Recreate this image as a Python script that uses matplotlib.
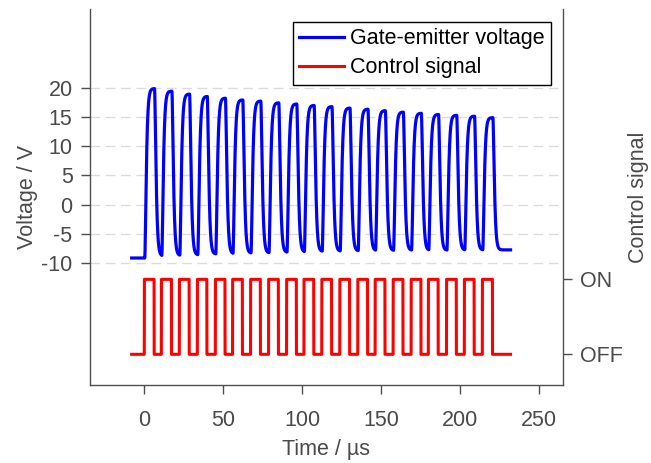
import numpy as np
import matplotlib
matplotlib.use("Agg")
import matplotlib.pyplot as plt

plt.rcParams['font.family'] = ['Liberation Sans', 'DejaVu Sans']

# Control signal edges (µs)
rise_times = [0.0, 10.8, 22.2, 33.6, 45.0, 55.9, 67.3, 78.7, 90.1, 101.1,
              112.4, 123.8, 135.2, 146.2, 157.6, 169.0, 179.9, 191.4, 202.7, 214.1]
fall_times = [6.2, 17.2, 28.4, 39.6, 51.1, 62.1, 73.5, 84.9, 96.3, 107.3,
              118.6, 130.0, 141.4, 152.4, 163.8, 175.2, 186.1, 197.6, 208.9, 220.5]
t_start, t_end = -8.0, 232.0

# Gate-emitter voltage levels (V): plateau of each pulse, level after each pulse
peak_levels = [19.95, 19.5, 19.0, 18.6, 18.3, 18.0, 17.8, 17.5, 17.3, 17.05,
               16.85, 16.6, 16.4, 16.15, 15.9, 15.7, 15.5, 15.35, 15.2, 14.95]
off_levels = [-8.85, -8.75, -8.65, -8.5, -8.45, -8.35, -8.3, -8.2, -8.15, -8.05,
              -8.0, -7.95, -7.9, -7.9, -7.85, -7.85, -7.85, -7.8, -7.8, -7.8]
initial_level = -9.2
gate_delay = 0.3   # µs
gate_tau = 0.6     # µs, driver RC time constant

voltage_ticks = [-10, -5, 0, 5, 10, 15, 20]
control_ticks = [0, 1]
control_labels = ['OFF', 'ON']
time_ticks = [0, 50, 100, 150, 200, 250]

# --- build traces -----------------------------------------------------------
dt = 0.02
t = np.arange(t_start, t_end + dt / 2, dt)

control = np.zeros_like(t)
for r, f in zip(rise_times, fall_times):
    control[(t >= r) & (t < f)] = 1.0

target = np.full_like(t, initial_level)
next_rises = rise_times[1:] + [np.inf]
for r, f, nr, hi, lo in zip(rise_times, fall_times, next_rises, peak_levels, off_levels):
    target[(t >= r + gate_delay) & (t < f + gate_delay)] = hi
    target[(t >= f + gate_delay) & (t < nr + gate_delay)] = lo

# two cascaded first-order lags for the gate charging
gate = np.empty_like(target)
s1 = s2 = initial_level
a = dt / gate_tau
for i, x in enumerate(target):
    s1 += a * (x - s1)
    s2 += a * (s1 - s2)
    gate[i] = s2

# --- figure -----------------------------------------------------------------
text_col = '#4a4a4a'
spine_col = '#4f4f4f'
fs = 15.5

fig = plt.figure(figsize=(6.51, 4.63), dpi=100)
ax = fig.add_axes([0.1382, 0.1674, 0.8648 - 0.1382, 0.9806 - 0.1674])
ax2 = ax.twinx()

ax.set_xlim(-34.4, 265.2)
ax.set_ylim(-31.13, 33.64)
ax2.set_ylim(-0.416, 4.607)

for yv in voltage_ticks:
    ax.axhline(yv, color='#dcdcdc', lw=1.0, ls=(0, (7, 4)), zorder=0)

l1, = ax.plot(t, gate, color='#0000ff', lw=2.3, label='Gate-emitter voltage',
              solid_joinstyle='round')
l2, = ax2.plot(t, control, color='#ff0000', lw=2.2, label='Control signal')

ax.set_yticks(voltage_ticks)
ax.set_yticklabels([str(v) for v in voltage_ticks])
ax.set_xticks(time_ticks)
ax2.set_yticks(control_ticks)
ax2.set_yticklabels(control_labels)

for a_ in (ax, ax2):
    for sp in a_.spines.values():
        sp.set_color(spine_col)
        sp.set_linewidth(1.0)
    a_.spines['top'].set_visible(False)
ax.spines['right'].set_visible(False)
ax2.spines['left'].set_visible(False)
ax2.spines['bottom'].set_visible(False)

ax.tick_params(axis='both', direction='out', length=6.5, width=1.0, color=spine_col,
               labelcolor=text_col, labelsize=fs, pad=6)
ax.tick_params(axis='x', pad=11)
ax2.tick_params(axis='y', direction='out', length=6.5, width=1.0, color=spine_col,
                labelcolor=text_col, labelsize=fs, pad=6)

ax.set_xlabel('Time / µs', fontsize=fs, color=text_col, va='center')
ax.set_ylabel('Voltage / V', fontsize=fs, color=text_col, va='center')
ax2.set_ylabel('Control signal', fontsize=fs, color=text_col, va='center')
ax.xaxis.set_label_coords(0.5, -0.171)
ax.yaxis.set_label_coords(-0.133, 0.5)
ax2.yaxis.set_label_coords(1.160, 0.5)

leg = ax2.legend(handles=[l1, l2], loc='upper right', bbox_to_anchor=(0.974, 0.9655),
                 borderaxespad=0, fontsize=fs, frameon=True, fancybox=False,
                 framealpha=1, edgecolor='black', handlelength=2.1,
                 handletextpad=0.25, borderpad=0.3, labelspacing=0.36)
leg.get_frame().set_linewidth(1.0)

fig.savefig('out.png', dpi=100)
